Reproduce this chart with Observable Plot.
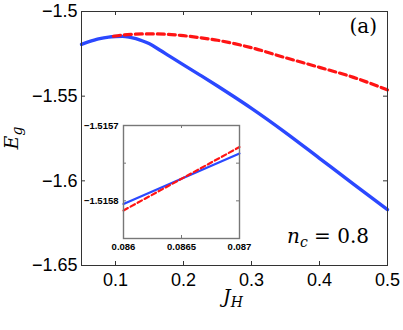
<!DOCTYPE html>
<html><head><meta charset="utf-8">
<script src="https://cdn.jsdelivr.net/npm/d3@7"></script>
<script src="https://cdn.jsdelivr.net/npm/@observablehq/plot@0.6"></script>
<style>
body{margin:0;background:#fff;}
#wrap{position:relative;width:403px;height:330px;}
#wrap svg{position:absolute;}
</style></head><body><div id="wrap"></div>
<script>
// ---- data ----
const jhBlue = [0.05,0.06,0.075,0.09,0.1,0.11,0.12,0.13,0.14,0.15,0.165,0.18,0.2,0.225,0.25,0.275,0.3,0.35,0.4,0.45,0.5];
const egBlue = [-1.5194,-1.5180,-1.5162,-1.5151,-1.5148,-1.5147,-1.5151,-1.5160,-1.5174,-1.5191,-1.5227,-1.5265,-1.5315,-1.5377,-1.5440,-1.5505,-1.5572,-1.5715,-1.5867,-1.6019,-1.6170];
const jhRed = [0.097,0.11,0.125,0.15,0.175,0.2,0.225,0.25,0.275,0.3,0.35,0.4,0.45,0.5];
const egRed = [-1.5146,-1.5139,-1.5135,-1.5132,-1.5134,-1.5143,-1.5155,-1.5170,-1.5190,-1.5214,-1.5273,-1.5330,-1.5389,-1.5463];
const insetJh = [0.086,0.087];
const insetBlue = [-1.5158043,-1.5157372];
const insetRed = [-1.5158128,-1.5157286];
const xTicks = [0.1,0.2,0.3,0.4,0.5];
const xTickLabels = ["0.1","0.2","0.3","0.4","0.5"];
const yTicks = [-1.5,-1.55,-1.6,-1.65];
const yTickLabels = ["\u22121.5","\u22121.55","\u22121.6","\u22121.65"];
const insetXTicks = [0.086,0.0865,0.087];
const insetXTickLabels = ["0.086","0.0865","0.087"];
const insetYTicks = [-1.5157,-1.51575,-1.5158];
const insetYTickLabels = ["\u22121.5157","","\u22121.5158"];

// ---- style ----
const BLUE = "#2b48ff", RED = "#ff1414", FRAME = "#333", IFRAME = "#777";
const SERIF = "DejaVu Serif";
const SANS = "Liberation Sans";

const blue = jhBlue.map((x,i)=>({x, y: egBlue[i]}));
const red = jhRed.map((x,i)=>({x, y: egRed[i]}));
const iBlue = insetJh.map((x,i)=>({x, y: insetBlue[i]}));
const iRed = insetJh.map((x,i)=>({x, y: insetRed[i]}));

const W=403, H=330, mL=81, mR=16, mT=11, mB=65;
const iw = W-mL-mR, ih = H-mT-mB, tk = 4;

const main = Plot.plot({
  width: W, height: H, marginLeft: mL, marginRight: mR, marginTop: mT, marginBottom: mB,
  style: {background: "transparent", color: "#000", overflow: "visible"},
  x: {domain: [0.05, 0.5]},
  y: {domain: [-1.65, -1.5]},
  marks: [
    Plot.axisX({ticks: xTicks, tickFormat: d => xTickLabels[xTicks.indexOf(d)], tickSize: 0, tickPadding: 8, label: null, fontSize: 18}),
    Plot.axisY({ticks: yTicks, tickFormat: d => yTickLabels[yTicks.indexOf(d)], tickSize: 0, tickPadding: 4, label: null, fontSize: 18}),
    Plot.tickX(xTicks, {x: d => d, insetTop: ih - tk, stroke: FRAME}),
    Plot.tickX(xTicks, {x: d => d, insetBottom: ih - tk, stroke: FRAME}),
    Plot.tickY(yTicks, {y: d => d, insetRight: iw - tk, stroke: FRAME}),
    Plot.tickY(yTicks, {y: d => d, insetLeft: iw - tk, stroke: FRAME}),
    Plot.line(blue, {x: "x", y: "y", stroke: BLUE, strokeWidth: 3.4, curve: "monotone-x"}),
    Plot.line(red, {x: "x", y: "y", stroke: RED, strokeWidth: 3.2, strokeDasharray: "7,4", curve: "monotone-x"}),
    Plot.frame({stroke: FRAME})
  ]
});
main.setAttribute("font-family", SANS);
main.setAttribute("font-size", "18");
d3.select(main).selectAll("g[aria-label$='tick label'] text")
  .style("font-family", SANS).style("font-size", "18px");
main.style.left = "0px"; main.style.top = "0px";
const wrap = document.getElementById("wrap");
wrap.appendChild(main);

// annotations (real text)
const ms = d3.select(main);
ms.append("text").attr("x", 377).attr("y", 33).attr("text-anchor", "end")
  .style("font-family", SERIF).style("font-size", "20px").text("(a)");
const nc = ms.append("text").attr("x", 287).attr("y", 243).attr("text-anchor", "start")
  .style("font-family", SERIF).style("font-size", "20px");
nc.append("tspan").style("font-style", "italic").text("n");
nc.append("tspan").style("font-style", "italic").style("font-size", "14px").attr("dy", 4).text("c");
nc.append("tspan").attr("dy", -4).text(" = 0.8");
const jl = ms.append("text").attr("x", 233).attr("y", 303).attr("text-anchor", "middle")
  .style("font-family", SERIF).style("font-size", "19px");
jl.append("tspan").style("font-style", "italic").text("J");
jl.append("tspan").style("font-style", "italic").style("font-size", "14px").attr("dy", 4).text("H");
const el = ms.append("text").attr("transform", "translate(18,138) rotate(-90)").attr("text-anchor", "middle")
  .style("font-family", SERIF).style("font-size", "19px");
el.append("tspan").style("font-style", "italic").text("E");
el.append("tspan").style("font-style", "italic").style("font-size", "14px").attr("dy", 4).text("g");

// ---- inset ----
const iL = 40, iR = 10, iT = 10, iB = 20, iW = 116, iH = 113, itk = 3;
const inset = Plot.plot({
  width: iW + iL + iR, height: iH + iT + iB,
  marginLeft: iL, marginRight: iR, marginTop: iT, marginBottom: iB,
  style: {background: "transparent", color: "#000", overflow: "visible"},
  x: {domain: [0.086, 0.087]},
  y: {domain: [-1.51585, -1.5157]},
  marks: [
    Plot.frame({fill: "white", stroke: "none"}),
    Plot.axisX({ticks: insetXTicks, tickFormat: d => insetXTickLabels[insetXTicks.indexOf(d)], tickSize: 0, tickPadding: 5, label: null}),
    Plot.axisY({ticks: insetYTicks, tickFormat: d => insetYTickLabels[insetYTicks.indexOf(d)], tickSize: 0, tickPadding: 5, label: null}),
    Plot.tickX(insetXTicks, {x: d => d, insetTop: iH - itk, stroke: IFRAME}),
    Plot.tickX(insetXTicks, {x: d => d, insetBottom: iH - itk, stroke: IFRAME}),
    Plot.tickY(insetYTicks, {y: d => d, insetRight: iW - itk, stroke: IFRAME}),
    Plot.tickY(insetYTicks, {y: d => d, insetLeft: iW - itk, stroke: IFRAME}),
    Plot.line(iBlue, {x: "x", y: "y", stroke: BLUE, strokeWidth: 2.2}),
    Plot.line(iRed, {x: "x", y: "y", stroke: RED, strokeWidth: 2.2, strokeDasharray: "5,3"}),
    Plot.frame({stroke: IFRAME, strokeWidth: 1.4})
  ]
});
d3.select(inset).selectAll("g[aria-label$='tick label'] text")
  .style("font-family", SANS).style("font-size", "9.5px").style("font-weight", "bold");
inset.style.left = (123 - iL) + "px"; inset.style.top = (125 - iT) + "px";
wrap.appendChild(inset);
</script></body></html>
